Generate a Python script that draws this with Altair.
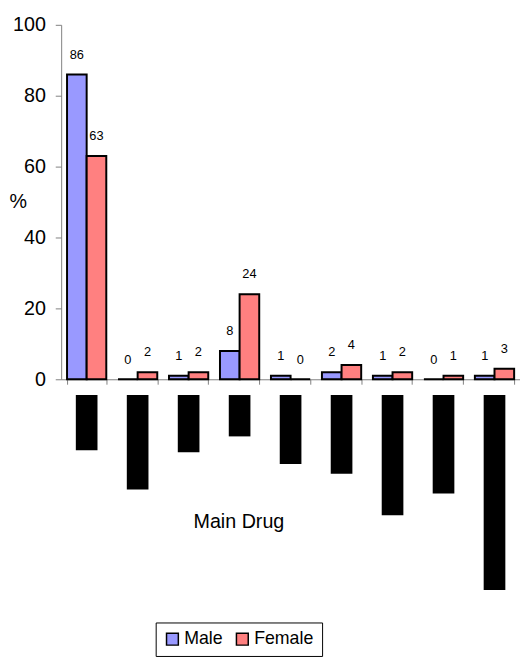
import altair as alt
import pandas as pd

categories = ["Drug 1", "Drug 2", "Drug 3", "Drug 4", "Drug 5", "Drug 6", "Drug 7", "Drug 8", "Drug 9"]
male = [86, 0, 1, 8, 1, 2, 1, 0, 1]
female = [63, 2, 2, 24, 0, 4, 2, 1, 3]
# lengths of the obscured (blacked-out) category labels below the axis
label_box_len = [56, 96, 58, 42, 70, 80, 122, 100, 198]

sexes = ["Male", "Female"]
colors = ["#9999FF", "#FF8080"]

rows = []
for c, m, f in zip(categories, male, female):
    rows.append({"category": c, "sex": "Male", "value": m})
    rows.append({"category": c, "sex": "Female", "value": f})
df = pd.DataFrame(rows)

boxes = pd.DataFrame({"category": categories, "len": label_box_len, "start": [0] * len(categories)})

xscale = alt.Scale(domain=categories, paddingInner=0.23, paddingOuter=0.115)
yscale = alt.Scale(domain=[0, 100], nice=False)

x_axis = alt.Axis(
    labels=False, tickBand="extent", tickSize=5, domainColor="#808080", tickColor="#808080",
    title="Main Drug", titleFontSize=20, titleFontWeight="normal", titleX=180, titleY=145,
    titleAlign="center", titleBaseline="middle", titleColor="black",
)
y_axis = alt.Axis(
    values=[0, 20, 40, 60, 80, 100], grid=False, tickSize=6, labelPadding=10, labelFontSize=20,
    labelColor="black", labelFlush=False, domainColor="#808080", tickColor="#808080",
    title="%", titleAngle=0, titleX=-44, titleY=180, titleAlign="center", titleBaseline="middle",
    titleFontSize=20, titleFontWeight="normal", titleColor="black",
)

x_enc = alt.X("category:N", sort=categories, scale=xscale, axis=x_axis)

bars = alt.Chart(df).mark_bar(stroke="black", strokeWidth=2).encode(
    x=x_enc,
    xOffset=alt.XOffset("sex:N", sort=sexes, scale=alt.Scale(domain=sexes)),
    y=alt.Y("value:Q", scale=yscale, axis=y_axis),
    color=alt.Color(
        "sex:N", sort=sexes, scale=alt.Scale(domain=sexes, range=colors),
        legend=alt.Legend(
            orient="none", legendX=96, legendY=607, direction="horizontal", title=None,
            strokeColor="black", fillColor="white", padding=8, symbolType="square", symbolSize=144,
            symbolStrokeColor="black", symbolStrokeWidth=1.5, symbolOpacity=1,
            labelFontSize=18, labelColor="black", columnPadding=10, labelOffset=3,
        ),
    ),
)

labels = alt.Chart(df).mark_text(fontSize=13, dy=-20, baseline="middle", fill="black").encode(
    x=x_enc,
    xOffset=alt.XOffset("sex:N", sort=sexes, scale=alt.Scale(domain=sexes)),
    y=alt.Y("value:Q", scale=yscale, axis=None),
    text=alt.Text("value:Q"),
)

label_boxes = alt.Chart(boxes).mark_bar(color="black", size=22).encode(
    x=x_enc,
    y=alt.Y("start:Q", scale=alt.Scale(domain=[0, 200], range=[376, 576]), axis=None),
    y2="len:Q",
)

chart = alt.layer(bars, labels, label_boxes).resolve_scale(y="independent").properties(
    width=466, height=360,
    autosize=alt.AutoSizeParams(type="none"),
    padding={"left": 54, "top": 12, "right": 0, "bottom": 279},
).configure(font="Liberation Sans").configure_view(stroke=None)

chart.save("out.html", embed_options={"renderer": "svg", "actions": False})
